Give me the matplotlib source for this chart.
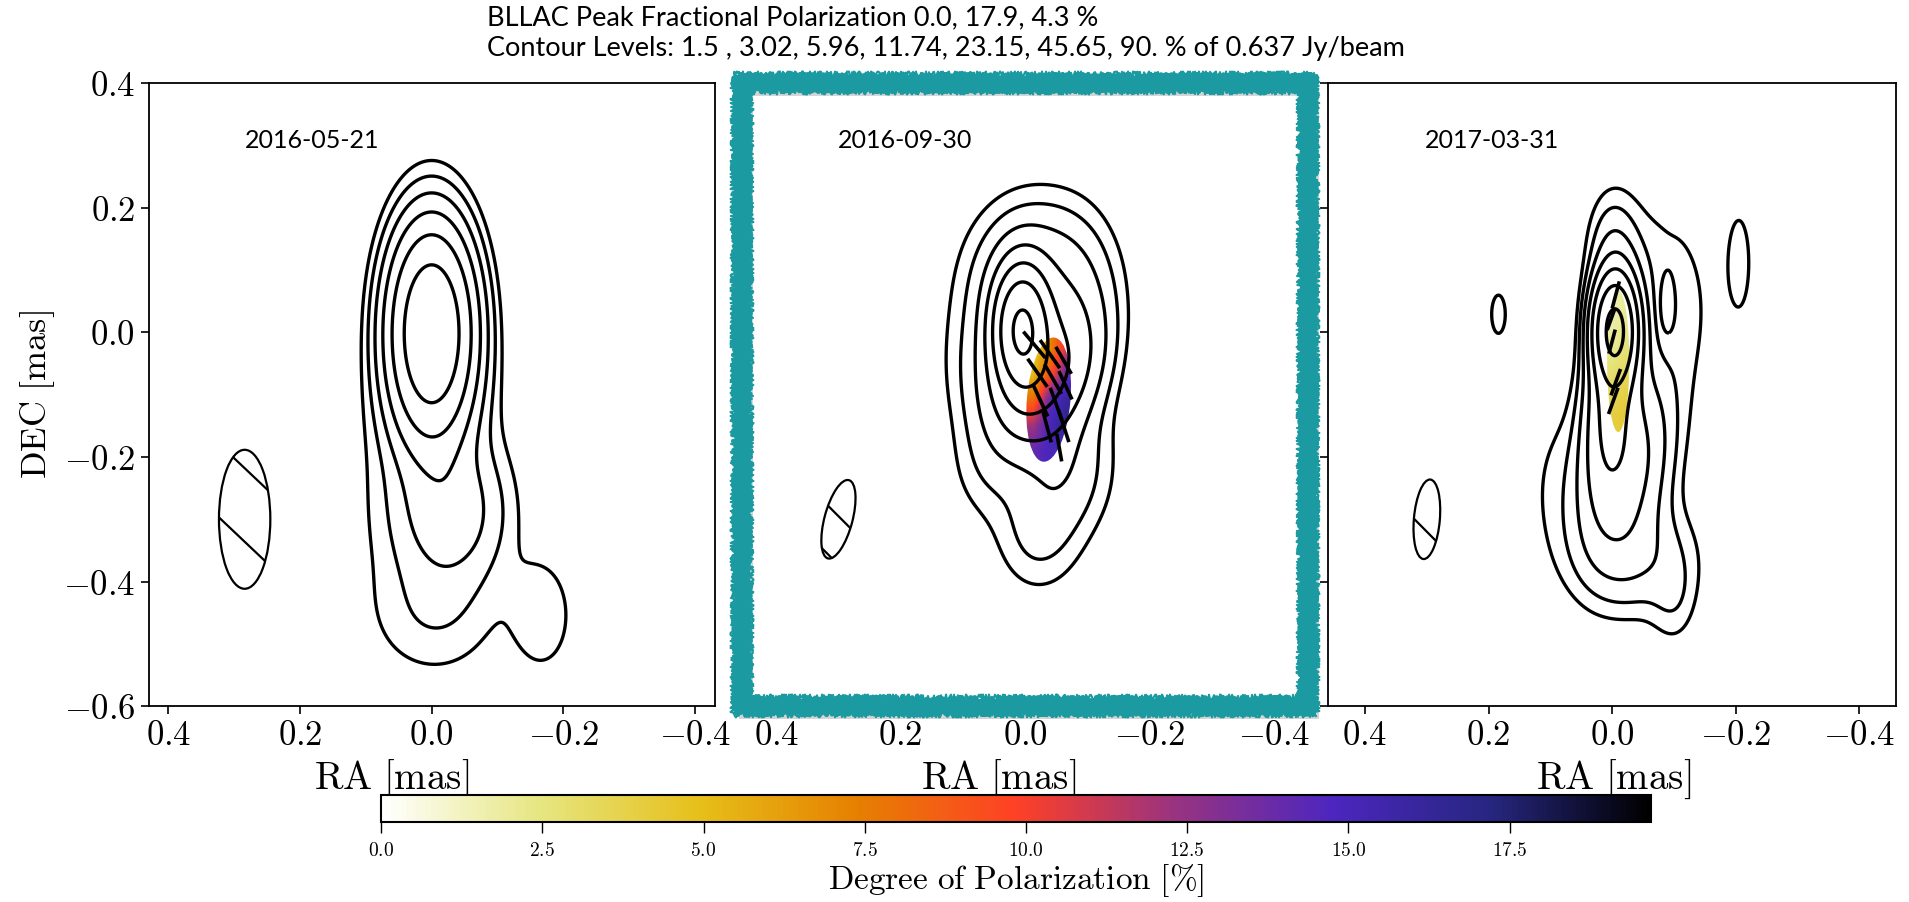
import numpy as np
import matplotlib
matplotlib.use('Agg')
import matplotlib.pyplot as plt
import matplotlib.patheffects as pe
from matplotlib.patches import Ellipse
from matplotlib.lines import Line2D
from matplotlib import colors, cm

plt.rcParams['mathtext.fontset'] = 'cm'
plt.rcParams['font.family'] = ['Lato', 'DejaVu Sans']

# ---- data ----
dates = ['2016-05-21', '2016-09-30', '2017-03-31']
levels_pct = [1.5, 3.02, 5.96, 11.74, 23.15, 45.65, 90.]
peak_flux = 0.637
peak_pol = [0.0, 17.9, 4.3]

# Stokes I model components per epoch: x, y, amp, sig_x, sig_y, angle(deg)
e1_x = [0.0, 0.0, -0.03, 0.0, -0.005, -0.168]
e1_y = [0.0, -0.15, -0.29, -0.32, -0.46, -0.455]
e1_a = [0.85, 0.02, 0.07, 0.02, 0.02, 0.027]
e1_sx = [0.037, 0.065, 0.05, 0.08, 0.065, 0.032]
e1_sy = [0.097, 0.09, 0.07, 0.12, 0.065, 0.062]
e1_ang = [0, 0, 0, 0, 0, 0]

e2_x = [0.005, -0.03, -0.02, 0.05, -0.09, -0.06, -0.02, 0.06]
e2_y = [0.005, -0.07, 0.08, -0.06, 0.0, -0.22, -0.33, -0.22]
e2_a = [0.9, 0.25, 0.10, 0.04, 0.03, 0.05, 0.03, 0.02]
e2_sx = [0.025, 0.045, 0.065, 0.05, 0.04, 0.05, 0.045, 0.04]
e2_sy = [0.055, 0.07, 0.08, 0.08, 0.10, 0.07, 0.06, 0.06]
e2_ang = [0, 20, 0, 0, 0, 0, 0, 0]

e3_x = [-0.004, 0.0, 0.0, -0.08, -0.025, -0.04, 0.07, -0.10, 0.184, -0.087, -0.206]
e3_y = [0.005, -0.09, 0.13, 0.04, -0.22, -0.36, -0.25, -0.43, 0.029, 0.035, 0.113]
e3_a = [0.95, 0.25, 0.045, 0.026, 0.15, 0.05, 0.02, 0.02, 0.03, -0.02, 0.025]
e3_sx = [0.02, 0.025, 0.025, 0.06, 0.04, 0.06, 0.05, 0.025, 0.0093, 0.014, 0.014]
e3_sy = [0.05, 0.10, 0.06, 0.12, 0.09, 0.06, 0.10, 0.05, 0.026, 0.05, 0.06]
e3_ang = [0, 5, 0, 0, 10, 0, 0, 0, 0, 0, 0]

# restoring beams
beam_x = [0.284, 0.30, 0.30]
beam_y = [-0.30, -0.30, -0.30]
beam_maj = [0.223, 0.13, 0.128]
beam_min = [0.078, 0.045, 0.042]
beam_pa = [0, -15, -5]
beam_hatch = [[0.082, -0.036], [0.005, -0.073], [-0.02]]

# fractional polarization patches (percent), rows top->bottom, cols east->west
pol2_frac = [[4, 7, 11],
             [5, 9, 14],
             [8, 14, 16],
             [12, 15, 17],
             [14, 15, 15]]
pol2_box = [0.0, -0.08, -0.21, -0.005]
pol2_ell = [-0.038, -0.108, 0.07, 0.2, 5]
pol3_frac = [[1.5, 2.0],
             [2.0, 2.5],
             [3.0, 3.5],
             [4.0, 4.3]]
pol3_box = [0.01, -0.03, -0.165, 0.072]
pol3_ell = [-0.01, -0.046, 0.036, 0.228, 0]

# EVPA sticks: x, y, length, angle (deg E of N)
ev2_x = [-0.015, -0.040, -0.062, -0.020, -0.045, -0.065, -0.025, -0.050, -0.035, -0.062, -0.055]
ev2_y = [-0.020, -0.035, -0.045, -0.065, -0.075, -0.085, -0.110, -0.115, -0.150, -0.150, -0.185]
ev2_l = [0.055, 0.055, 0.05, 0.055, 0.055, 0.05, 0.055, 0.055, 0.055, 0.055, 0.045]
ev2_a = [40, 35, 30, 35, 30, 25, 25, 20, 15, 18, 10]
ev3_x = [-0.006, 0.002, 0.0, -0.006, -0.002]
ev3_y = [0.06, 0.02, -0.015, -0.08, -0.11]
ev3_l = [0.045, 0.035, 0.04, 0.045, 0.045]
ev3_a = [-15, -20, -15, -20, -20]

# ---- grid / model ----
gx = np.linspace(-0.48, 0.48, 481)
gy = np.linspace(-0.62, 0.42, 521)
XX, YY = np.meshgrid(gx, gy)


def stokes_map(xs, ys, amps, sxs, sys_, angs):
    z = np.zeros_like(XX)
    for x0, y0, a, sx, sy, ang in zip(xs, ys, amps, sxs, sys_, angs):
        t = np.deg2rad(ang)
        dx, dy = XX - x0, YY - y0
        u = dx * np.cos(t) + dy * np.sin(t)
        v = -dx * np.sin(t) + dy * np.cos(t)
        z += a * np.exp(-0.5 * (u**2 / sx**2 + v**2 / sy**2))
    return z


maps = [stokes_map(e1_x, e1_y, e1_a, e1_sx, e1_sy, e1_ang),
        stokes_map(e2_x, e2_y, e2_a, e2_sx, e2_sy, e2_ang),
        stokes_map(e3_x, e3_y, e3_a, e3_sx, e3_sy, e3_ang)]

cmap = plt.get_cmap('CMRmap_r')
norm = colors.Normalize(vmin=0, vmax=1.1 * max(peak_pol))

W, H = 1909, 902
fig = plt.figure(figsize=(W / 100, H / 100), dpi=100)
positions = [[0.0778, 0.217, 0.2966, 0.691],
             [0.3887, 0.217, 0.2965, 0.691],
             [0.6957, 0.217, 0.2975, 0.691]]
xlims = [0.43, 0.455, 0.46]
label_x = [0.43, 0.454, 0.502]
axes = []
for i in range(3):
    ax = fig.add_axes(positions[i])
    axes.append(ax)
    ax.contour(XX, YY, maps[i], levels=np.array(levels_pct) / 100.,
               colors='k', linewidths=2.4)

    # beam
    bx, by = beam_x[i], beam_y[i]
    beam = Ellipse((bx, by), beam_min[i], beam_maj[i], angle=-beam_pa[i],
                   fc='none', ec='k', lw=1.6, zorder=3)
    ax.add_patch(beam)
    for b in beam_hatch[i]:
        hx = np.array([bx - 0.15, bx + 0.15])
        hl, = ax.plot(hx, by + (hx - bx) + b, color='k', lw=1.6, zorder=3)
        hl.set_clip_path(beam)

    ax.text(0.17, 0.908, dates[i], transform=ax.transAxes, fontsize=18,
            va='center', ha='left')

    ax.set_xlim(xlims[i], -xlims[i])
    ax.set_ylim(-0.6, 0.4)
    xt = [0.4, 0.2, 0.0, -0.2, -0.4]
    ax.set_xticks(xt, labels=[f'${v:.1f}$' for v in xt])
    yt = [0.4, 0.2, 0.0, -0.2, -0.4, -0.6]
    if i == 0:
        ax.set_yticks(yt, labels=[f'${v:.1f}$' for v in yt])
        ax.set_ylabel(r'$\mathrm{DEC\ [mas]}$', fontsize=26)
    else:
        ax.set_yticks(yt, labels=[])
    ax.tick_params(labelsize=25, length=6, width=1.2)
    ax.set_xlabel(r'$\mathrm{RA\ [mas]}$', fontsize=28)
    ax.xaxis.set_label_coords(label_x[i], -0.082)
    for s in ax.spines.values():
        s.set_linewidth(1.3)

# polarization patches
for ax, frac, box, ell, xl in [(axes[1], pol2_frac, pol2_box, pol2_ell, xlims[1]),
                               (axes[2], pol3_frac, pol3_box, pol3_ell, xlims[2])]:
    im = ax.imshow(np.array(frac, float), extent=box, cmap=cmap, norm=norm,
                   interpolation='bilinear', aspect='auto', zorder=1)
    clip = Ellipse((ell[0], ell[1]), ell[2], ell[3], angle=ell[4],
                   transform=ax.transData, fc='none', ec='none')
    ax.add_patch(clip)
    im.set_clip_path(clip)
    ax.set_xlim(xl, -xl)
    ax.set_ylim(-0.6, 0.4)

# EVPA sticks
for ax, xs, ys, ls, angs in [(axes[1], ev2_x, ev2_y, ev2_l, ev2_a),
                             (axes[2], ev3_x, ev3_y, ev3_l, ev3_a)]:
    for x0, y0, l, a in zip(xs, ys, ls, angs):
        t = np.deg2rad(a)
        dx, dy = 0.5 * l * np.sin(t), 0.5 * l * np.cos(t)
        ax.plot([x0 - dx, x0 + dx], [y0 - dy, y0 + dy], color='k', lw=2.6,
                solid_capstyle='butt', zorder=4)

# titles
fig.text(0.255, 0.980, 'BLLAC Peak Fractional Polarization ' +
         ', '.join(f'{p:.1f}' for p in peak_pol) + ' %', fontsize=19.5, va='center')
fig.text(0.255, 0.946, 'Contour Levels: 1.5 , 3.02, 5.96, 11.74, 23.15, 45.65, 90. % of '
         f'{peak_flux} Jy/beam', fontsize=19.5, va='center')

# colorbar
cax = fig.add_axes([0.1996, 0.089, 0.6652, 0.030])
sm = cm.ScalarMappable(norm=norm, cmap=cmap)
cb = fig.colorbar(sm, cax=cax, orientation='horizontal')
cticks = np.arange(0, 18, 2.5)
cb.set_ticks(cticks, labels=[f'${v:.1f}$' for v in cticks])
cax.tick_params(labelsize=14, length=8, width=1, pad=6)
cb.set_label(r'$\mathrm{Degree\ of\ Polarization\ [\%]}$', fontsize=24, labelpad=2)
cb.outline.set_linewidth(1.5)

# hand-drawn highlight frame around the middle panel
teal = '#1b9ba1'
x0, y0, w, h = positions[1]


def frame_xy(d):
    dx, dy = d / W, d / H
    return ([x0 - dx, x0 + w + dx, x0 + w + dx, x0 - dx, x0 - dx],
            [y0 - dy, y0 - dy, y0 + h + dy, y0 + h + dy, y0 - dy])


fx, fy = frame_xy(0)
base = Line2D(fx, fy, transform=fig.transFigure, color=teal, lw=10,
              solid_joinstyle='miter', zorder=20,
              path_effects=[pe.SimpleLineShadow(offset=(3, -4), shadow_color='0.45', alpha=0.3),
                            pe.Normal()])
fig.add_artist(base)
for d, lw, sc, ln in [(-6, 3, 3, 2), (-8, 1.5, 3.5, 1.5), (6, 3, 3, 2), (8, 1.5, 3.5, 1.5),
                      (0, 6, 4, 3)]:
    ex, ey = frame_xy(d)
    rough = Line2D(ex, ey, transform=fig.transFigure, color=teal, lw=lw,
                   solid_joinstyle='round', solid_capstyle='round', zorder=21)
    rough.set_sketch_params(scale=sc, length=ln, randomness=6)
    fig.add_artist(rough)

fig.savefig('out.png', dpi=100)
